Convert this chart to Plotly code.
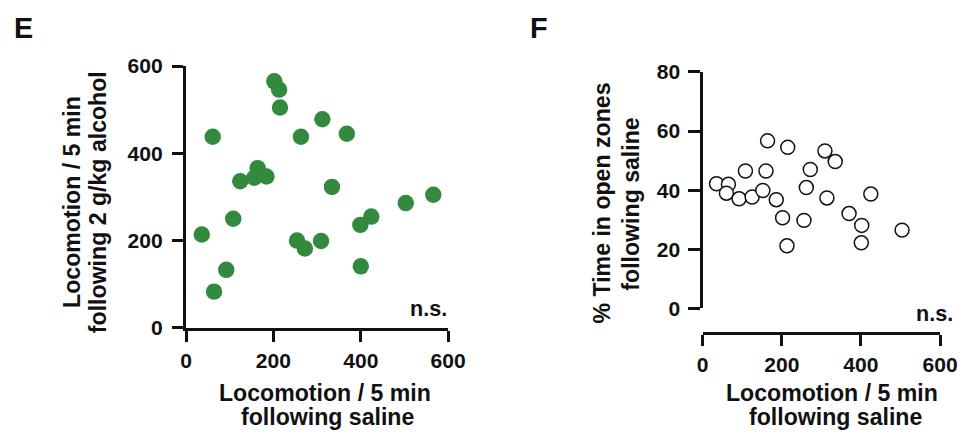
import plotly.graph_objects as go

# Panel E: locomotion after saline vs after 2 g/kg alcohol
e_saline = [202, 213, 215, 61, 263, 312, 368, 164, 156, 184, 124, 334,
            566, 503, 424, 399, 108, 36, 254, 272, 309, 400, 92, 64]
e_alcohol = [565, 546, 505, 438, 438, 478, 445, 366, 344, 347, 336, 323,
             305, 286, 255, 236, 250, 214, 200, 182, 199, 141, 133, 83]

# Panel F: locomotion after saline vs % time in open zones after saline
f_saline = [35, 65, 60, 92, 125, 108, 160, 152, 164, 186, 202, 213,
            215, 256, 262, 272, 309, 314, 335, 370, 402, 401, 425, 504]
f_open = [42.2, 42.0, 39.0, 37.1, 37.7, 46.5, 46.5, 39.9, 56.7, 36.8, 30.7, 21.2,
          54.5, 29.8, 40.9, 47.0, 53.3, 37.4, 49.7, 32.1, 28.1, 22.2, 38.7, 26.5]

x_ticks = [0, 200, 400, 600]
e_y_ticks = [0, 200, 400, 600]
f_y_ticks = [0, 20, 40, 60, 80]

PAGE_MARGIN = 8
W, H = 979 - 2 * PAGE_MARGIN, 440 - 2 * PAGE_MARGIN
# measured page -> picture mapping of the viewer
SX, OX = 0.986, 2.4
SY, OY = 0.961, 9.5
S = (SX + SY) / 2

FONT = "Liberation Sans, Arial, sans-serif"
INK = "#111111"
GREEN = "#338a3e"

def px(x):
    return ((x - OX) / SX - PAGE_MARGIN) / W

def py(y):
    return 1 - ((y - OY) / SY - PAGE_MARGIN) / H

def sz(v):
    return v / S

fig = go.Figure()
fig.add_trace(go.Scatter(
    x=e_saline, y=e_alcohol, mode="markers", xaxis="x", yaxis="y",
    marker=dict(size=sz(16), color=GREEN, line=dict(width=0)),
    showlegend=False, cliponaxis=False))
fig.add_trace(go.Scatter(
    x=f_saline, y=f_open, mode="markers", xaxis="x2", yaxis="y2",
    marker=dict(size=sz(13.6), color="white", line=dict(width=1.5, color=INK)),
    showlegend=False, cliponaxis=False))

axis_common = dict(
    showline=True, linecolor=INK, linewidth=2.8, ticks="outside",
    ticklen=sz(11), tickwidth=2.8, tickcolor=INK, showgrid=False, zeroline=False,
    tickfont=dict(family=FONT, size=sz(20.5), color=INK, weight="bold"),
    fixedrange=True,
)

fig.update_layout(
    width=W, height=H, margin=dict(l=0, r=0, t=0, b=0),
    paper_bgcolor="white", plot_bgcolor="white",
    xaxis=dict(axis_common, domain=[px(184.3), px(449.3)], range=[0, 600],
               tickvals=x_ticks, anchor="y", ticklabelstandoff=1),
    yaxis=dict(axis_common, domain=[py(330), py(64)], range=[0, 600],
               tickvals=e_y_ticks, anchor="x", ticklabelstandoff=5),
    xaxis2=dict(axis_common, domain=[px(706.7), px(946.7)], range=[0, 600],
                tickvals=x_ticks, anchor="free", position=py(335), ticklabelstandoff=1),
    yaxis2=dict(axis_common, domain=[py(310.3), py(70)], range=[0, 80],
                tickvals=f_y_ticks, anchor="x2", ticklabelstandoff=4),
)

def label(text, x, y, size, angle=0, xanchor="center", yanchor="middle"):
    fig.add_annotation(
        text=text, x=px(x), y=py(y), xref="paper", yref="paper",
        showarrow=False, textangle=angle, xanchor=xanchor, yanchor=yanchor,
        font=dict(family=FONT, size=sz(size), color=INK, weight="bold"))

label("E", 20, 25, 28)
label("F", 541, 25, 28)
# x-axis titles (two lines each)
label("Locomotion / 5 min", 324.5, 396, 22.5)
label("following saline", 327, 421, 22.5)
label("Locomotion / 5 min", 837.5, 396, 22.5)
label("following saline", 841, 421, 22.5)
# y-axis titles (rotated)
label("Locomotion / 5 min", 69.5, 202.5, 22.5, angle=-90)
label("following 2 g/kg alcohol", 96, 202.5, 22.5, angle=-90)
label("% Time in open zones", 605, 203.5, 22.5, angle=-90)
label("following saline", 634, 204, 22.5, angle=-90)
# significance
label("n.s.", 450, 310, 21, xanchor="right")
label("n.s.", 962, 315.5, 21, xanchor="right")

fig.write_html("out.html")
